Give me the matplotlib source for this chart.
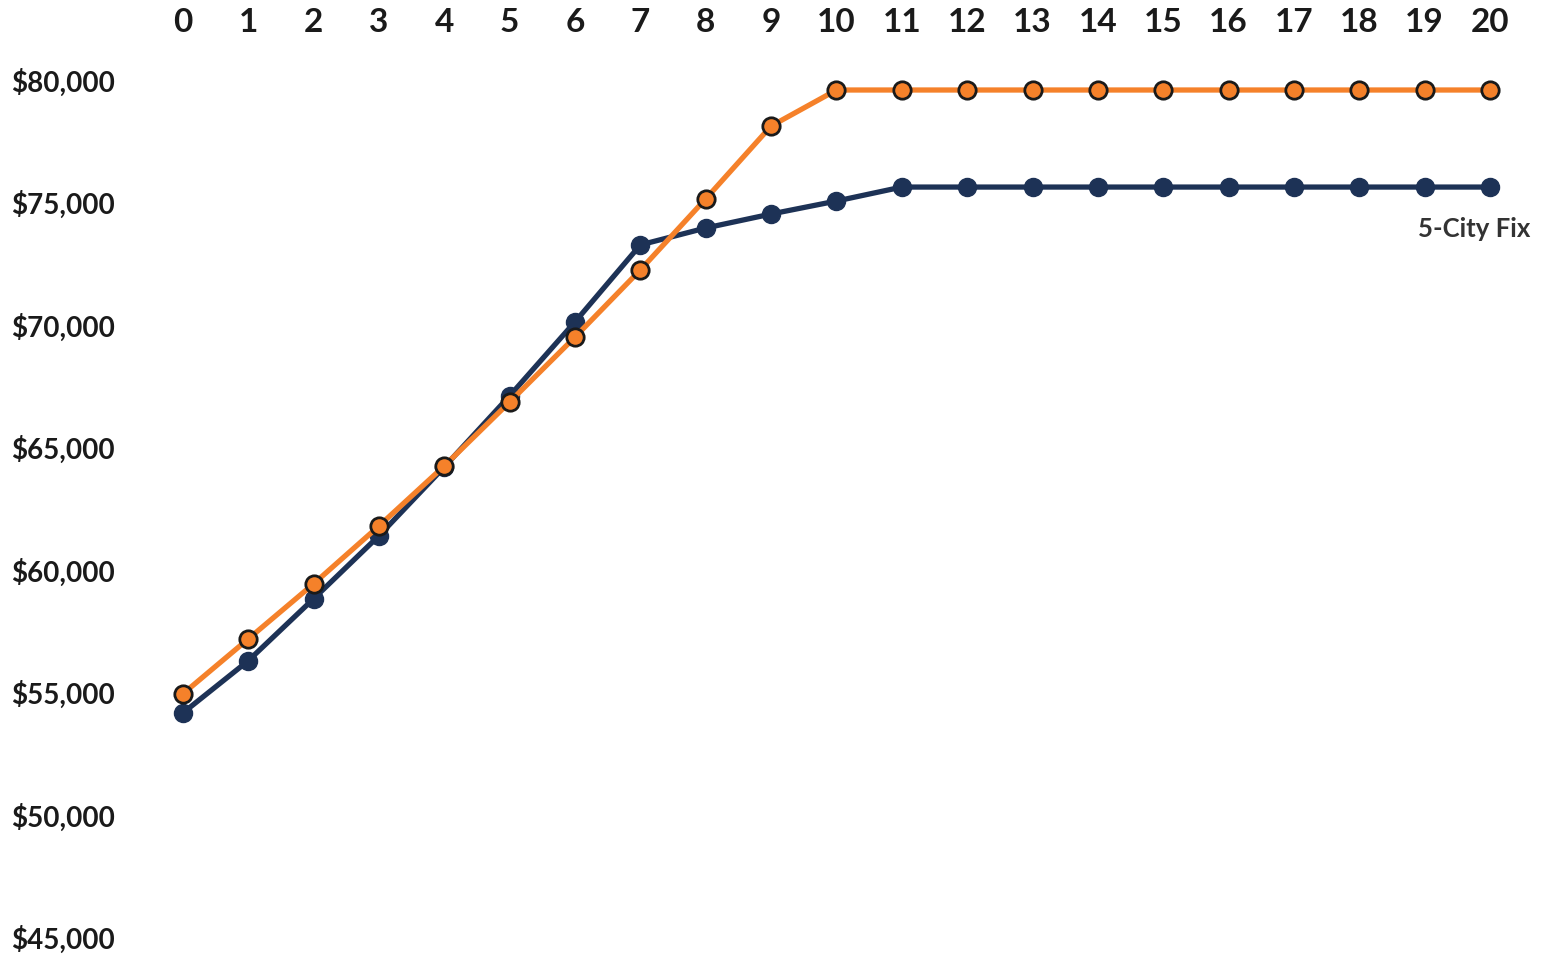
import numpy as np
import matplotlib.pyplot as plt
from matplotlib.ticker import FuncFormatter

# Values
years = np.arange(21)
orange_vals = [54950, 57190, 59440, 61800, 64250, 66860, 69510, 72250, 75150, 78120,
               79590, 79590, 79590, 79590, 79590, 79590, 79590, 79590, 79590, 79590, 79590]
navy_vals = [54170, 56300, 58830, 61400, 64210, 67110, 70130, 73270, 73960, 74530,
             75060, 75630, 75630, 75630, 75630, 75630, 75630, 75630, 75630, 75630, 75630]
y_ticks = [45000, 50000, 55000, 60000, 65000, 70000, 75000, 80000]
label_text = "5-City Fix"

plt.rcParams["font.family"] = ["Lato", "DejaVu Sans"]

navy = "#1d3256"
orange = "#f5812a"

fig = plt.figure(figsize=(15.47, 9.59), dpi=100)
ax = fig.add_axes([0.1034, 0.0094, 0.8746, 0.92])

ax.plot(years, navy_vals, color=navy, linewidth=3.8, marker="o", markersize=13,
        markerfacecolor=navy, markeredgecolor=navy, zorder=2)
ax.plot(years, orange_vals, color=orange, linewidth=3.8, marker="o", markersize=12.5,
        markerfacecolor=orange, markeredgecolor="#1a1a1a", markeredgewidth=2, zorder=3)

ax.text(19.75, 73920, label_text, ha="center", va="center", fontsize=18.5,
        fontweight="bold", color="#333333", clip_on=False)

ax.set_xlim(-0.35, 20.35)
ax.set_ylim(44500, 80500)
ax.set_xticks(years)
ax.set_yticks(y_ticks)
ax.yaxis.set_major_formatter(FuncFormatter(lambda v, p: f"${v:,.0f}"))

ax.xaxis.tick_top()
ax.tick_params(axis="x", length=0, pad=22, labelsize=24, colors="#1a1a1a")
ax.tick_params(axis="y", length=0, pad=107, labelsize=20, colors="#1a1a1a")
for lbl in ax.get_xticklabels():
    lbl.set_fontweight("bold")
for lbl in ax.get_yticklabels():
    lbl.set_fontweight("bold")
    lbl.set_horizontalalignment("left")

for s in ax.spines.values():
    s.set_visible(False)

plt.savefig("out.png", dpi=100)
plt.close()
